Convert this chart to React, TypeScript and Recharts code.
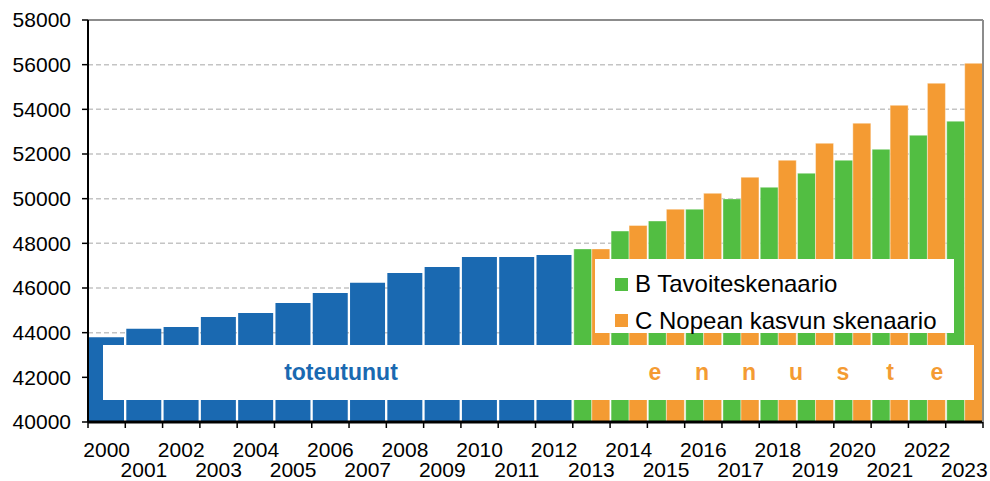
import { BarChart, Bar, XAxis, YAxis, CartesianGrid, ReferenceLine, Legend } from 'recharts';

const years = [
    '2000', '2001', '2002', '2003', '2004', '2005', '2006', '2007', '2008', '2009', '2010', '2011',
    '2012', '2013', '2014', '2015', '2016', '2017', '2018', '2019', '2020', '2021', '2022', '2023',
];

// toteutunut 2000-2012
const historical = [43800, 44170, 44250, 44700, 44880, 45330, 45780, 46230, 46670, 46940, 47390, 47390, 47480];

// ennuste 2013-2023
const scenarioB = [47750, 48550, 49000, 49530, 49990, 50510, 51140, 51720, 52210, 52840, 53470];
const scenarioC = [47750, 48800, 49530, 50240, 50960, 51720, 52480, 53380, 54180, 55170, 56060];

const yTicks = [40000, 42000, 44000, 46000, 48000, 50000, 52000, 54000, 56000, 58000];
const forecastLetters = ['e', 'n', 'n', 'u', 's', 't', 'e'];

const BLUE = '#1a69b1';
const GREEN = '#52be42';
const ORANGE = '#f49b33';
const FONT = '"Liberation Sans", Arial, sans-serif';

const W = 990;
const H = 481;
const LEFT = 88;
const RIGHT = 7;
const X_AXIS_H = 59;
const AXIS_Y = H - X_AXIS_H;
const PLOT_W = W - LEFT - RIGHT;
const BAND = PLOT_W / years.length;

const data = years.map((year, i) => {
    const f = i - historical.length;
    return {
        year,
        hist: i < historical.length ? historical[i] : null,
        b: f >= 0 ? scenarioB[f] : null,
        c: f >= 0 ? scenarioC[f] : null,
    };
});

// vuodet kahdessa rivissä, tikit kategorioiden rajoilla
const XTick = (props: any) => {
    const { x, payload, index } = props;
    const y = AXIS_Y;
    const even = Number(payload.value) % 2 === 0;
    return (
        <g>
            <line x1={x - BAND / 2} x2={x - BAND / 2} y1={y} y2={y + 6} stroke="#000" strokeWidth={1.5} />
            {index === years.length - 1 && (
                <line x1={x + BAND / 2} x2={x + BAND / 2} y1={y} y2={y + 6} stroke="#000" strokeWidth={1.5} />
            )}
            <text x={x} y={y + (even ? 35 : 55)} textAnchor="middle" fontSize={21} fontFamily={FONT} fill="#000">
                {payload.value}
            </text>
        </g>
    );
};

const LegendBox = ({ payload }: any) => (
    <div style={{ padding: '7px 0 0 20px' }}>
        {(payload || [])
            .filter((p: any) => p.type !== 'none')
            .map((p: any) => (
                <div key={p.value} style={{ display: 'flex', alignItems: 'center', height: 36.5 }}>
                    <span style={{ width: 13, height: 13, background: p.color, marginRight: 7 }} />
                    <span style={{ fontSize: 24, fontFamily: FONT, color: '#000' }}>{p.value}</span>
                </div>
            ))}
    </div>
);

export default function App() {
    return (
        <div style={{ position: 'absolute', left: 0, top: 0, width: W, height: H, background: '#fff' }}>
            <BarChart
                width={W}
                height={H}
                data={data}
                margin={{ top: 20, right: 0, left: 0, bottom: 0 }}
                barCategoryGap={1}
                barGap={0}
            >
                <CartesianGrid vertical={false} stroke="#c4c4c4" strokeWidth={1.5} strokeDasharray="5 3" />
                <XAxis xAxisId="f" dataKey="year" height={0} hide />
                <XAxis
                    xAxisId="h"
                    dataKey="year"
                    interval={0}
                    height={X_AXIS_H}
                    tickLine={false}
                    tick={<XTick />}
                    axisLine={{ stroke: '#000', strokeWidth: 3 }}
                />
                <YAxis
                    width={LEFT}
                    domain={[40000, 58000]}
                    ticks={yTicks}
                    allowDataOverflow
                    tickSize={6}
                    tickMargin={11}
                    tick={{ fontSize: 21, fontFamily: FONT, fill: '#000' }}
                    tickLine={{ stroke: '#000', strokeWidth: 1.5 }}
                    axisLine={{ stroke: '#000', strokeWidth: 2 }}
                />
                <YAxis
                    yAxisId="r"
                    orientation="right"
                    width={RIGHT}
                    domain={[40000, 58000]}
                    tick={false}
                    tickLine={false}
                    axisLine={{ stroke: '#8c8c8c', strokeWidth: 2 }}
                />
                <ReferenceLine xAxisId="h" y={58000} stroke="#8c8c8c" strokeWidth={2} />
                <Bar xAxisId="h" dataKey="hist" name="toteutunut" fill={BLUE} legendType="none" isAnimationActive={false} />
                <Bar
                    xAxisId="f"
                    dataKey="b"
                    name="B Tavoiteskenaario"
                    fill={GREEN}
                    stroke="#ffffff"
                    strokeOpacity={0.4}
                    isAnimationActive={false}
                />
                <Bar
                    xAxisId="f"
                    dataKey="c"
                    name="C Nopean kasvun skenaario"
                    fill={ORANGE}
                    stroke="#ffffff"
                    strokeOpacity={0.4}
                    isAnimationActive={false}
                />
                <Legend
                    layout="horizontal"
                    verticalAlign="middle"
                    align="center"
                    content={<LegendBox />}
                    wrapperStyle={{ left: 595, top: 259, width: 359, height: 74, background: '#fff' }}
                />
            </BarChart>
            {/* valkoinen nauha: toteutunut / ennuste */}
            <div
                style={{
                    position: 'absolute',
                    left: 103,
                    top: 345,
                    width: 871,
                    height: 55,
                    background: '#fff',
                    fontFamily: FONT,
                    fontWeight: 'bold',
                    fontSize: 23,
                    lineHeight: '55px',
                }}
            >
                <span style={{ position: 'absolute', left: 138, width: 200, textAlign: 'center', color: BLUE }}>
                    toteutunut
                </span>
                {forecastLetters.map((ch, i) => (
                    <span
                        key={i}
                        style={{ position: 'absolute', left: 552 - 20 + i * 47, width: 40, textAlign: 'center', color: ORANGE }}
                    >
                        {ch}
                    </span>
                ))}
            </div>
        </div>
    );
}
